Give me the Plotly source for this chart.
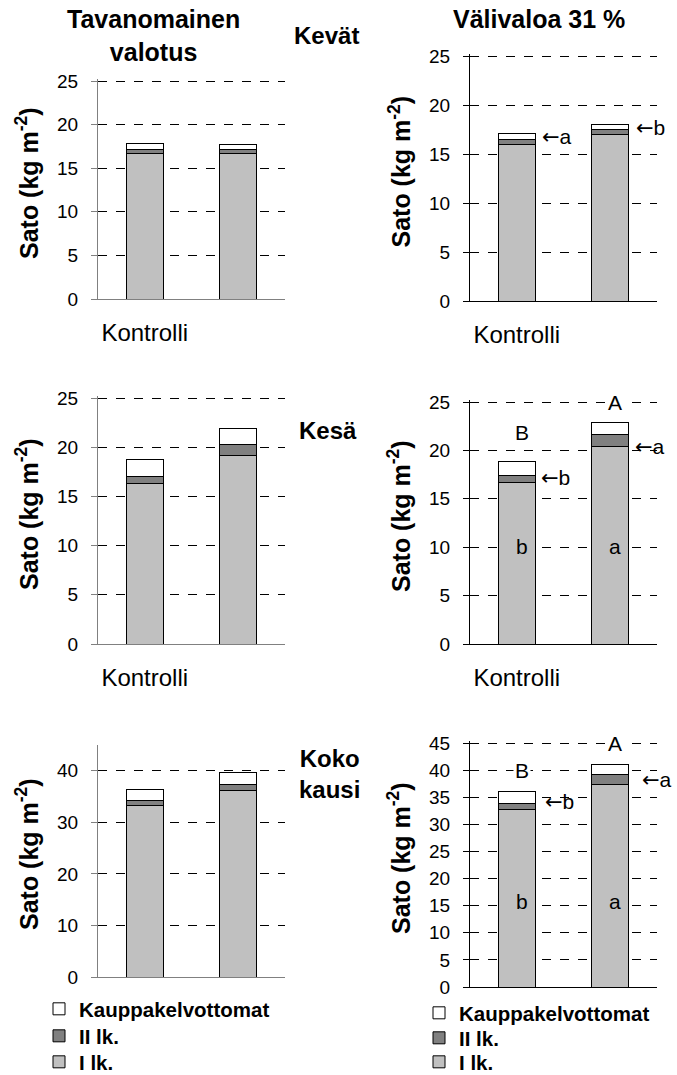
import plotly.graph_objects as go

W, H = 677, 1075
FONT = "Liberation Sans, Arial, sans-serif"

# ---------------- data ----------------
categories = ["Kontrolli", ""]
series_names = ["I lk.", "II lk.", "Kauppakelvottomat"]
series_colors = ["#c0c0c0", "#808080", "#ffffff"]

# Kevät (spring)
kevat_tav_I = [16.7, 16.7]
kevat_tav_II = [0.5, 0.5]
kevat_tav_K = [0.6, 0.5]
kevat_val_I = [16.0, 17.0]
kevat_val_II = [0.5, 0.5]
kevat_val_K = [0.6, 0.5]

# Kesä (summer)
kesa_tav_I = [16.35, 19.2]
kesa_tav_II = [0.65, 1.1]
kesa_tav_K = [1.7, 1.65]
kesa_val_I = [16.7, 20.4]
kesa_val_II = [0.7, 1.2]
kesa_val_K = [1.45, 1.3]

# Koko kausi (whole season)
koko_tav_I = [33.2, 36.1]
koko_tav_II = [1.0, 1.25]
koko_tav_K = [2.2, 2.25]
koko_val_I = [32.8, 37.4]
koko_val_II = [1.1, 1.75]
koko_val_K = [2.2, 1.95]

col_titles = ["Tavanomainen<br>valotus", "Välivaloa 31 %"]
season_titles = ["Kevät", "Kesä", "Koko<br>kausi"]
y_title = "Sato (kg m<sup>-2</sup>)"

# ---------------- layout helpers ----------------
def px_x(p):
    return p / W

def px_y(p):
    return 1 - p / H

panels = [
    dict(data=(kevat_tav_I, kevat_tav_II, kevat_tav_K), xpx=(98, 285), ypx=(81, 299), ymax=25, grid_top=True, dt=5, cat=True, ac="#808080", leg=None),
    dict(data=(kevat_val_I, kevat_val_II, kevat_val_K), xpx=(470, 657), ypx=(56, 301), ymax=25, grid_top=True, dt=5, cat=True, ac="#000000", leg=None),
    dict(data=(kesa_tav_I, kesa_tav_II, kesa_tav_K), xpx=(98, 285), ypx=(398, 644), ymax=25, grid_top=True, dt=5, cat=True, ac="#808080", leg=None),
    dict(data=(kesa_val_I, kesa_val_II, kesa_val_K), xpx=(470, 657), ypx=(402, 644), ymax=25, grid_top=True, dt=5, cat=True, ac="#000000", leg=None),
    dict(data=(koko_tav_I, koko_tav_II, koko_tav_K), xpx=(98, 285), ypx=(745, 977), ymax=45, grid_top=False, dt=10, cat=False, ac="#808080",
         leg=["legend3", "legend2", "legend"]),
    dict(data=(koko_val_I, koko_val_II, koko_val_K), xpx=(470, 657), ypx=(743, 987), ymax=45, grid_top=True, dt=5, cat=False, ac="#000000",
         leg=["legend6", "legend5", "legend4"]),
]

fig = go.Figure()
layout = dict(
    width=W, height=H,
    margin=dict(l=0, r=0, t=0, b=0, autoexpand=False),
    paper_bgcolor="white", plot_bgcolor="white",
    barmode="stack",
    font=dict(family=FONT, color="black", size=19),
    showlegend=True,
)

annotations = []
EXTRA_PX = 2.0  # keep the top gridline a little inside the plot so it is drawn

for i, p in enumerate(panels):
    n = i + 1
    xa = "x" if n == 1 else f"x{n}"
    ya = "y" if n == 1 else f"y{n}"
    xkey = "xaxis" if n == 1 else f"xaxis{n}"
    ykey = "yaxis" if n == 1 else f"yaxis{n}"
    for s in range(3):
        tr = dict(
            x=[0, 1], y=p["data"][s], name="<b>" + series_names[s] + "</b>",
            marker=dict(color=series_colors[s], line=dict(color="black", width=1)),
            width=0.4, xaxis=xa, yaxis=ya,
            showlegend=p["leg"] is not None,
            hoverinfo="skip",
        )
        if p["leg"] is not None:
            tr["legend"] = p["leg"][s]
        fig.add_trace(go.Bar(**tr))
    top_px, bot_px = p["ypx"]
    scale = (bot_px - top_px) / p["ymax"]
    if p["grid_top"]:
        ext = EXTRA_PX / scale
        top_px = top_px - EXTRA_PX
    else:
        ext = 0
    layout[xkey] = dict(
        domain=[px_x(p["xpx"][0]), px_x(p["xpx"][1])],
        anchor=ya, range=[-0.5, 1.5],
        tickvals=[0, 1], ticktext=categories if p["cat"] else ["", ""],
        showticklabels=p["cat"], ticks="",
        tickfont=dict(size=24), ticklabelstandoff=12,
        showline=True, linecolor=p["ac"], linewidth=1,
        showgrid=False, zeroline=False, fixedrange=True,
    )
    layout[ykey] = dict(
        domain=[px_y(bot_px), px_y(top_px)],
        anchor=xa, range=[0, p["ymax"] + ext], dtick=p["dt"], tick0=0,
        ticks="outside", ticklen=6, tickcolor=p["ac"], tickwidth=1,
        tickfont=dict(size=19), ticklabelstandoff=9,
        showline=True, linecolor=p["ac"], linewidth=1,
        showgrid=True, gridcolor="black", gridwidth=1, griddash="dash",
        zeroline=False, fixedrange=True,
    )
    # y axis title
    xc = 27 if p["xpx"][0] < 300 else 399
    yc = (p["ypx"][0] + p["ypx"][1]) / 2 - 7
    annotations.append(dict(
        text="<b>" + y_title + "</b>", xref="paper", yref="paper", x=px_x(xc), y=px_y(yc),
        textangle=-90, showarrow=False, font=dict(size=25),
        xanchor="center", yanchor="middle",
    ))

# column titles
annotations.append(dict(text="<b>" + col_titles[0] + "</b>", xref="paper", yref="paper",
                        x=px_x(153), y=px_y(3), xanchor="center", yanchor="top", showarrow=False,
                        font=dict(size=25)))
annotations.append(dict(text="<b>" + col_titles[1] + "</b>", xref="paper", yref="paper",
                        x=px_x(539), y=px_y(3), xanchor="center", yanchor="top", showarrow=False,
                        font=dict(size=25)))
# season labels
for txt, xx, yy in zip(season_titles, [292, 297, 297], [36, 430, 774]):
    annotations.append(dict(text="<b>" + txt + "</b>", xref="paper", yref="paper",
                            x=px_x(xx), y=px_y(yy), xanchor="left", yanchor="middle",
                            showarrow=False, font=dict(size=24)))

ARROW = "<span style=\"font-family:'DejaVu Sans'\">←</span>"
# significance letters (panel index, x category, y value, text, xanchor, xshift, bg)
sig = [
    (2, 0, 16.75, ARROW + "a", "left", 5, False),
    (2, 1, 17.7, ARROW + "b", "left", 5, False),
    (4, 0, 21.9, "B", "center", 5, False),
    (4, 1, 25.0, "A", "center", 5, True),
    (4, 0, 17.2, ARROW + "b", "left", 4, False),
    (4, 1, 20.4, ARROW + "a", "left", 4, False),
    (4, 0, 10.1, "b", "center", 5, False),
    (4, 1, 10.1, "a", "center", 5, False),
    (6, 0, 40.0, "B", "center", 5, True),
    (6, 1, 45.0, "A", "center", 5, True),
    (6, 0, 34.2, ARROW + "b", "left", 8, False),
    (6, 1, 38.1, ARROW + "a", "left", 11, False),
    (6, 0, 15.8, "b", "center", 5, False),
    (6, 1, 15.8, "a", "center", 5, False),
]
for n, cx, yv, txt, xan, xs, bg in sig:
    a = dict(text=txt, xref=f"x{n}", yref=f"y{n}", x=cx + (0.2 if xan == "left" else 0), y=yv,
             xanchor=xan, yanchor="middle", xshift=xs, showarrow=False, font=dict(size=21))
    if bg:
        a["bgcolor"] = "white"
    annotations.append(a)

layout["annotations"] = annotations

# one legend per row, so rows sit where the reference has them
leg_common = dict(xanchor="left", yanchor="middle", xref="container", yref="container",
                  font=dict(size=20.5), bgcolor="rgba(0,0,0,0)", borderwidth=0,
                  itemclick=False, itemdoubleclick=False)
rows_left = [1009, 1036, 1062]
rows_right = [1013, 1038, 1062]
for k, yy in enumerate(rows_left):
    key = "legend" if k == 0 else f"legend{k + 1}"
    layout[key] = dict(x=px_x(39), y=px_y(yy), **leg_common)
for k, yy in enumerate(rows_right):
    layout[f"legend{k + 4}"] = dict(x=px_x(419), y=px_y(yy), **leg_common)

fig.update_layout(**layout)
fig.write_html("out.html", config=dict(displayModeBar=False))
